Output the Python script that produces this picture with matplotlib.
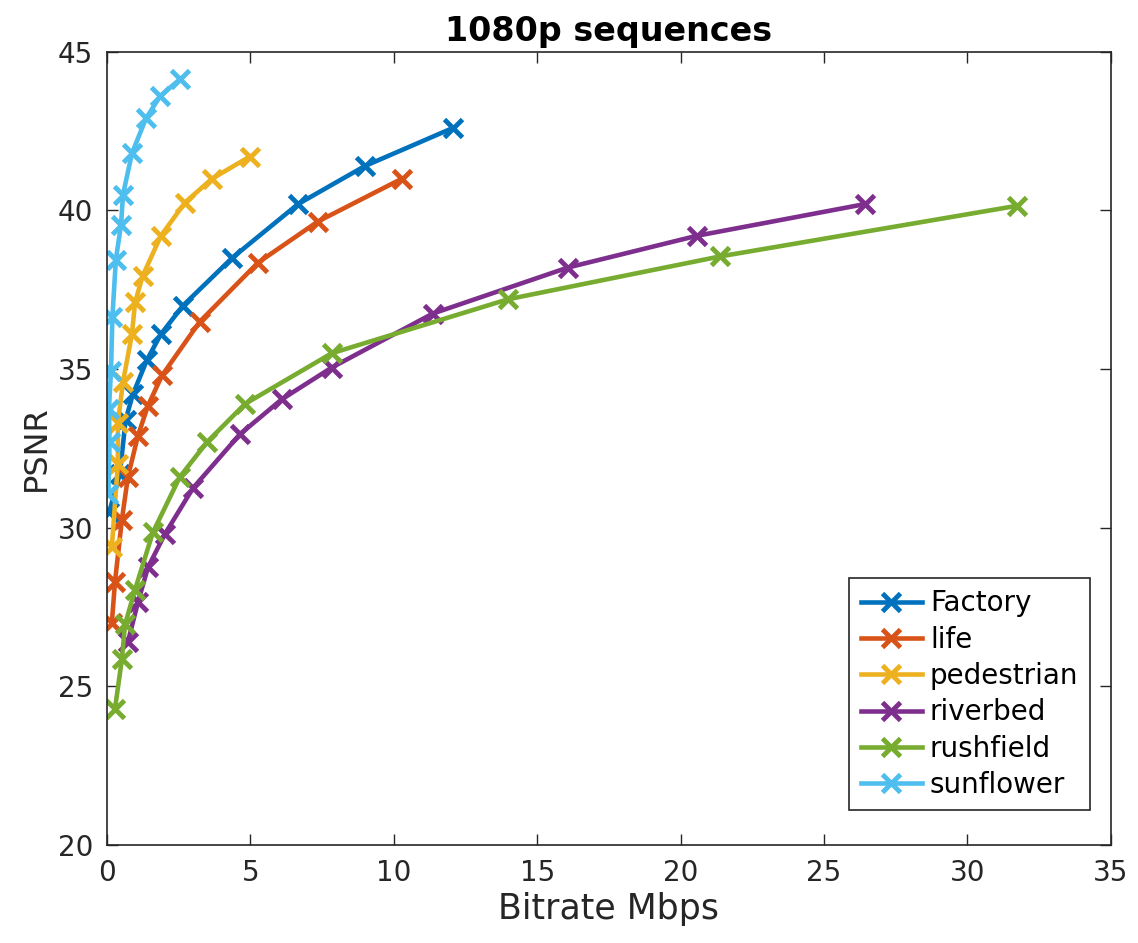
import matplotlib
matplotlib.use("Agg")
import matplotlib.pyplot as plt

# Rate-distortion points per sequence (bitrate in Mbps, PSNR in dB)
factory_rate = [0.08, 0.45, 0.65, 0.9, 1.4, 1.88, 2.65, 4.36, 6.66, 8.99, 12.06]
factory_psnr = [30.5, 31.7, 33.4, 34.2, 35.3, 36.1, 37.0, 38.5, 40.2, 41.4, 42.6]

life_rate = [0.17, 0.28, 0.52, 0.73, 1.08, 1.43, 1.92, 3.24, 5.26, 7.35, 10.28]
life_psnr = [27.0, 28.3, 30.25, 31.6, 32.9, 33.85, 34.8, 36.5, 38.35, 39.65, 41.0]

pedestrian_rate = [0.17, 0.38, 0.38, 0.56, 0.87, 0.98, 1.25, 1.88, 2.72, 3.66, 4.98]
pedestrian_psnr = [29.4, 32.0, 33.3, 34.6, 36.1, 37.1, 37.95, 39.2, 40.25, 41.0, 41.7]

riverbed_rate = [0.73, 1.08, 1.43, 2.02, 3.0, 4.64, 6.1, 7.84, 11.36, 16.07, 20.56, 26.42]
riverbed_psnr = [26.4, 27.65, 28.75, 29.8, 31.25, 32.95, 34.05, 35.05, 36.75, 38.2, 39.2, 40.2]

rushfield_rate = [0.28, 0.52, 0.63, 0.98, 1.6, 2.54, 3.49, 4.81, 7.84, 13.98, 21.37, 31.75]
rushfield_psnr = [24.3, 25.85, 26.95, 28.05, 29.85, 31.6, 32.7, 33.9, 35.5, 37.2, 38.55, 40.15]

sunflower_rate = [0.05, 0.09, 0.07, 0.14, 0.19, 0.31, 0.49, 0.56, 0.87, 1.36, 1.85, 2.56]
sunflower_psnr = [31.05, 32.7, 33.75, 34.95, 36.65, 38.45, 39.55, 40.5, 41.8, 42.9, 43.6, 44.15]

names = ["Factory", "life", "pedestrian", "riverbed", "rushfield", "sunflower"]
rates = [factory_rate, life_rate, pedestrian_rate, riverbed_rate, rushfield_rate, sunflower_rate]
psnrs = [factory_psnr, life_psnr, pedestrian_psnr, riverbed_psnr, rushfield_psnr, sunflower_psnr]
colors = ["#0072BD", "#D95319", "#EDB120", "#7E2F8E", "#77AC30", "#4DBEEE"]

fig = plt.figure(figsize=(11.38, 9.43), dpi=100)
ax = fig.add_axes([0.094, 0.104, 0.882, 0.841])

for name, r, p, c in zip(names, rates, psnrs, colors):
    ax.plot(r, p, color=c, linewidth=3.3, marker="x", markersize=13,
            markeredgewidth=3.5, label=name)

ax.set_xlim(0, 35)
ax.set_ylim(20, 45)
ax.set_xticks(range(0, 36, 5))
ax.set_yticks(range(20, 46, 5))
ax.tick_params(direction="in", length=8, width=1, top=True, right=True,
               labelsize=20, colors="#262626", pad=10)
for s in ax.spines.values():
    s.set_color("#262626")
    s.set_linewidth(1.2)

ax.set_xlabel("Bitrate Mbps", fontsize=25, color="#262626", labelpad=4)
ax.set_ylabel("PSNR", fontsize=23, color="#262626", labelpad=4)
ax.set_title("1080p sequences", fontsize=24, fontweight="bold", pad=8)

leg = ax.legend(loc="lower right", bbox_to_anchor=(0.979, 0.044), fontsize=20,
                fancybox=False, framealpha=1, edgecolor="#262626",
                handlelength=2.2, borderaxespad=0, labelspacing=0.3,
                handletextpad=0.3, borderpad=0.4)
leg.get_frame().set_linewidth(1.2)

fig.savefig("out.png", dpi=100)
